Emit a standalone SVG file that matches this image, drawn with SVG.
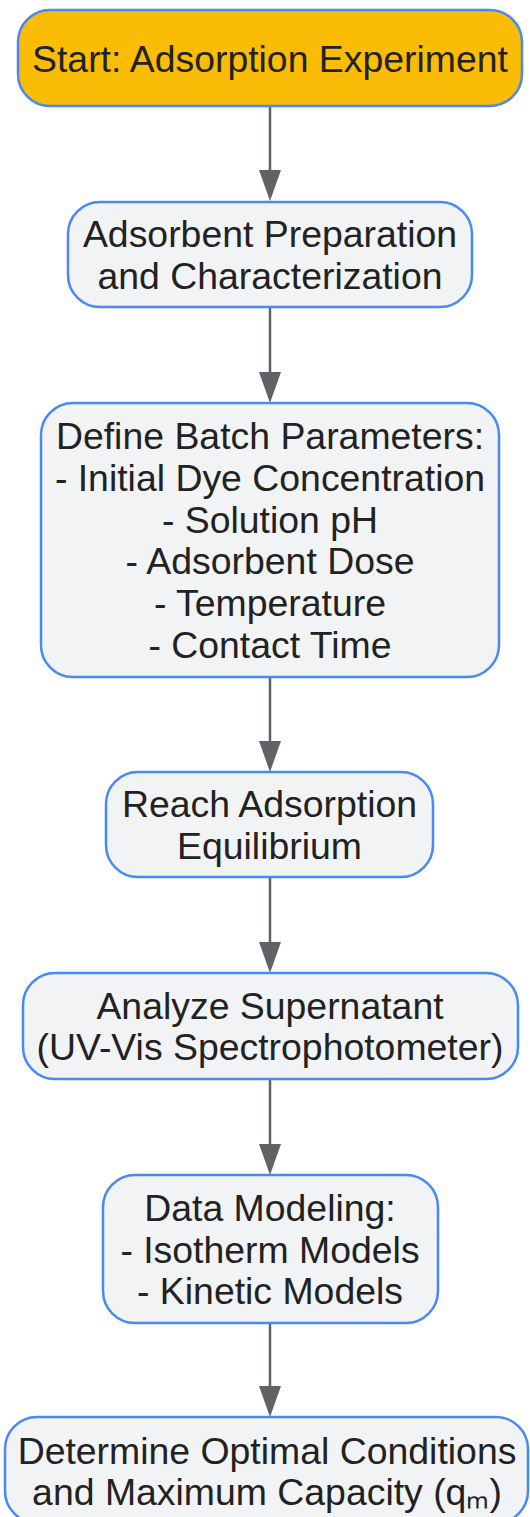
<svg xmlns="http://www.w3.org/2000/svg" width="530" height="1517" viewBox="0 0 530 1517">
<style>
.box{fill:#F1F3F4;stroke:#4A89F3;stroke-width:2.5}
.start{fill:#FABC05;stroke:#4A89F3;stroke-width:2.5}
text{font-family:"Liberation Sans",Arial,sans-serif;font-size:37.4px;fill:#222222;text-anchor:middle}
.edge{stroke:#5F6368;stroke-width:2.5;fill:none;marker-end:url(#ah)}
</style>
<defs>
<marker id="ah" viewBox="0 0 31 22" refX="0" refY="11" markerWidth="31" markerHeight="22" markerUnits="userSpaceOnUse" orient="auto">
<path d="M0,0 L31,11 L0,22 Z" fill="#5F6368"/>
</marker>
</defs>
<rect width="530" height="1517" fill="#FFFFFF"/>
<g id="connectors">
<line class="edge" x1="270" y1="107" x2="270" y2="170"/>
<line class="edge" x1="270" y1="308" x2="270" y2="372"/>
<line class="edge" x1="270" y1="678" x2="270" y2="741"/>
<line class="edge" x1="270" y1="878" x2="270" y2="942"/>
<line class="edge" x1="270" y1="1080" x2="270" y2="1144"/>
<line class="edge" x1="270" y1="1324" x2="270" y2="1386"/>
</g>
<g id="n1">
<rect class="start" x="18" y="10" width="504" height="96" rx="32"/>
<text x="270" y="72">Start: Adsorption Experiment</text>
</g>
<g id="n2">
<rect class="box" x="68" y="202" width="404" height="105" rx="32"/>
<text x="270" y="247">Adsorbent Preparation</text>
<text x="270" y="289">and Characterization</text>
</g>
<g id="n3">
<rect class="box" x="41" y="403" width="458" height="274" rx="32"/>
<text x="270" y="449">Define Batch Parameters:</text>
<text x="270" y="491">- Initial Dye Concentration</text>
<text x="270" y="533">- Solution pH</text>
<text x="270" y="574">- Adsorbent Dose</text>
<text x="270" y="616">- Temperature</text>
<text x="270" y="658">- Contact Time</text>
</g>
<g id="n4">
<rect class="box" x="106" y="772" width="327" height="105" rx="32"/>
<text x="269.5" y="817">Reach Adsorption</text>
<text x="269.5" y="859">Equilibrium</text>
</g>
<g id="n5">
<rect class="box" x="23" y="973" width="495" height="106" rx="32"/>
<text x="270" y="1019">Analyze Supernatant</text>
<text x="270" y="1060">(UV-Vis Spectrophotometer)</text>
</g>
<g id="n6">
<rect class="box" x="103" y="1175" width="335" height="148" rx="32"/>
<text x="270" y="1221">Data Modeling:</text>
<text x="270" y="1263">- Isotherm Models</text>
<text x="270" y="1304">- Kinetic Models</text>
</g>
<g id="n7">
<rect class="box" x="5" y="1417" width="523" height="106" rx="32"/>
<text x="267" y="1464">Determine Optimal Conditions</text>
<text x="267" y="1505">and Maximum Capacity (qₘ)</text>
</g>
</svg>
